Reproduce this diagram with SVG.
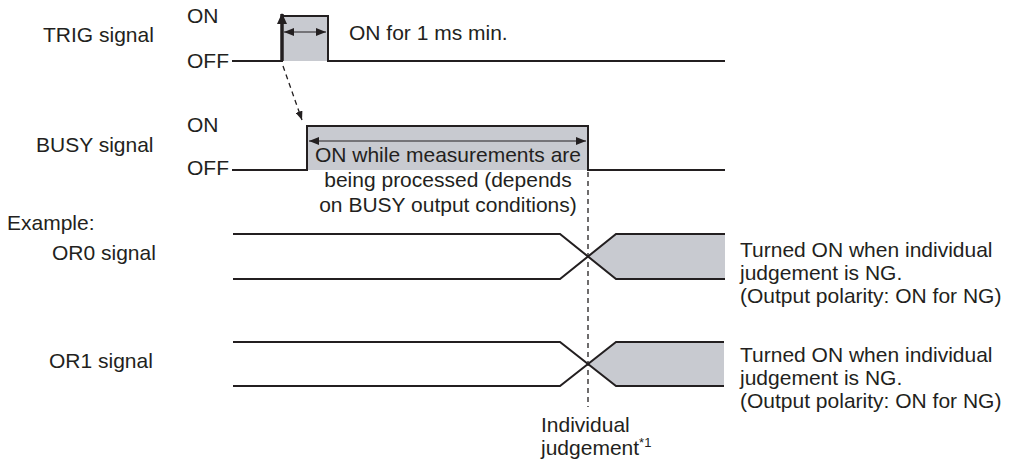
<svg xmlns="http://www.w3.org/2000/svg" width="1009" height="467" viewBox="0 0 1009 467">
<style>
text{font-family:"Liberation Sans",Arial,sans-serif;font-size:21px;fill:#231f20}
.sig{fill:none;stroke:#231f20;stroke-width:2}
.fill{fill:#c8cad0;stroke:none}
.thin{fill:none;stroke:#231f20;stroke-width:1.2}
.dash{fill:none;stroke:#231f20;stroke-width:1.3;stroke-dasharray:5 4}
</style>
<defs>
<marker id="ah" viewBox="0 0 10 8" refX="10" refY="4" markerWidth="10" markerHeight="8" markerUnits="userSpaceOnUse" orient="auto-start-reverse">
<path d="M0,0 L10,4 L0,8 Z" fill="#231f20"/>
</marker>
<marker id="ahd" viewBox="0 0 10 8" refX="10" refY="4" markerWidth="9" markerHeight="7" markerUnits="userSpaceOnUse" orient="auto">
<path d="M0,0 L10,4 L0,8 Z" fill="#231f20"/>
</marker>
</defs>
<g id="labels">
<text x="43" y="42">TRIG signal</text>
<text x="187" y="23">ON</text>
<text x="187" y="68">OFF</text>
<text x="36" y="152">BUSY signal</text>
<text x="187" y="132">ON</text>
<text x="187" y="175">OFF</text>
<text x="7" y="230">Example:</text>
<text x="52" y="260">OR0 signal</text>
<text x="49" y="368">OR1 signal</text>
</g>
<g id="trig">
<rect class="fill" x="282" y="16" width="46" height="45"/>
<path class="sig" d="M232,61 H282 V16 H328 V61 H725"/>
<line x1="282" y1="61" x2="282" y2="14" stroke="#231f20" stroke-width="3.5"/>
<path d="M277,24 L282,13 L287,24 Z" fill="#231f20"/>
<line class="thin" x1="284" y1="32" x2="326" y2="32" marker-start="url(#ah)" marker-end="url(#ah)"/>
<text x="349" y="40">ON for 1 ms min.</text>
</g>
<g id="busy">
<rect class="fill" x="307" y="126" width="281" height="44"/>
<path class="sig" d="M232,170 H307 V126 H588 V170 H725"/>
<line class="thin" x1="309" y1="141" x2="586" y2="141" marker-start="url(#ah)" marker-end="url(#ah)"/>
<text x="448" y="162" text-anchor="middle">ON while measurements are</text>
<text x="448" y="187" text-anchor="middle">being processed (depends</text>
<text x="448" y="212" text-anchor="middle">on BUSY output conditions)</text>
</g>
<g id="or0">
<path class="fill" d="M588,256.5 L616,234 H725 V279 H616 Z"/>
<path class="sig" d="M233,234 H560 L616,279 H725"/>
<path class="sig" d="M233,279 H560 L616,234 H725"/>
<text x="740" y="257">Turned ON when individual</text>
<text x="740" y="280">judgement is NG.</text>
<text x="740" y="303">(Output polarity: ON for NG)</text>
</g>
<g id="or1">
<path class="fill" d="M588,363.5 L616,342 H724 V386 H616 Z"/>
<path class="sig" d="M233,342 H560 L616,386 H724"/>
<path class="sig" d="M233,386 H560 L616,342 H724"/>
<text x="740" y="362">Turned ON when individual</text>
<text x="740" y="385">judgement is NG.</text>
<text x="740" y="408">(Output polarity: ON for NG)</text>
</g>
<g id="judgement">
<text x="541" y="432">Individual</text>
<text x="541" y="455">judgement<tspan dy="-8" font-size="13">*1</tspan></text>
</g>
<g id="connectors">
<line class="dash" x1="283" y1="66" x2="302" y2="120" marker-end="url(#ahd)"/>
<line class="dash" x1="588" y1="172" x2="588" y2="407"/>
</g>
</svg>
